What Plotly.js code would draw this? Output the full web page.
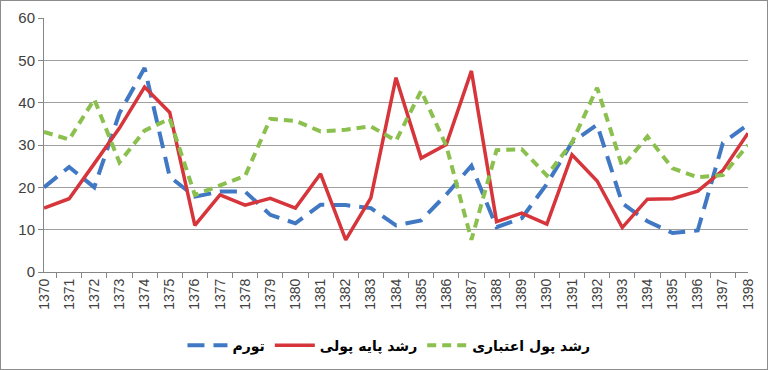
<!DOCTYPE html>
<html>
<head>
<meta charset="utf-8">
<script src="https://cdn.plot.ly/plotly-3.0.1.min.js"></script>
<style>
html,body{margin:0;padding:0;background:#fff;}
#chart{width:766px;height:368px;border:1px solid #8c8c8c;}
</style>
</head>
<body>
<div id="chart"></div>
<script>
const years = ["1370","1371","1372","1373","1374","1375","1376","1377","1378","1379","1380","1381","1382","1383","1384","1385","1386","1387","1388","1389","1390","1391","1392","1393","1394","1395","1396","1397","1398"];
const inflation = [20,24.8,20,37.5,48.2,22.5,17.8,19,19,13.5,11.5,15.9,15.8,15.1,11,12.2,18.3,25.1,10.6,12.7,20.8,30.6,34.8,16.2,12,9.2,9.8,30.5,34.8];
const baseMoneyGrowth = [15.1,17.3,25.6,34,43.7,37.7,11,18.2,15.8,17.4,15.1,23.2,7.6,17.5,45.9,26.9,30.1,47.5,11.9,13.9,11.3,27.7,21.5,10.5,17.2,17.3,19.1,24,32.8];
const creditMoneyGrowth = [33.1,31.3,40.8,25.9,33.4,36.2,18.2,20.5,22.7,36.2,35.7,33.2,33.6,34.4,31,42.8,29.8,7.6,28.8,29,22.8,30.6,43.5,24.9,32,24.5,22.4,22.9,30];
const names = ["تورم","رشد پایه پولی","رشد پول اعتباری"];

const traces = [
  {x: years, y: inflation, name: names[0], type: 'scatter', mode: 'lines',
   line: {color: '#4178c4', width: 4, dash: '17px,9px'}},
  {x: years, y: baseMoneyGrowth, name: names[1], type: 'scatter', mode: 'lines',
   line: {color: '#d6353b', width: 3.5}},
  {x: years, y: creditMoneyGrowth, name: names[2], type: 'scatter', mode: 'lines',
   line: {color: '#8cc04e', width: 4, dash: '9px,6px'}}
];

const layout = {
  width: 766, height: 368,
  margin: {l: 43, r: 19, t: 17, b: 97, autoexpand: false},
  paper_bgcolor: '#fff', plot_bgcolor: '#fff',
  font: {family: 'Liberation Sans, DejaVu Sans, sans-serif', color: '#404040'},
  showlegend: true,
  legend: {orientation: 'h', x: 0.49, xanchor: 'center', y: -0.29, yanchor: 'middle',
           font: {family: 'DejaVu Sans, sans-serif', size: 14, color: '#000', weight: 'bold'},
           traceorder: 'normal', itemwidth: 40},
  xaxis: {type: 'category', tickangle: -90, ticks: 'outside', tickson: 'boundaries', ticklen: 5,
          tickcolor: '#868686', showline: true, linecolor: '#868686', linewidth: 1,
          showgrid: false, tickfont: {size: 14, color: '#404040'}, fixedrange: true, automargin: false},
  yaxis: {range: [0, 60], dtick: 10, ticks: 'outside', ticklen: 5, tickcolor: '#868686',
          showline: true, linecolor: '#868686', linewidth: 1, gridcolor: '#a0a0a0', gridwidth: 1,
          zeroline: false, tickfont: {size: 15, color: '#404040'}, fixedrange: true, automargin: false}
};

Plotly.newPlot('chart', traces, layout, {displayModeBar: false, staticPlot: true});
</script>
</body>
</html>
